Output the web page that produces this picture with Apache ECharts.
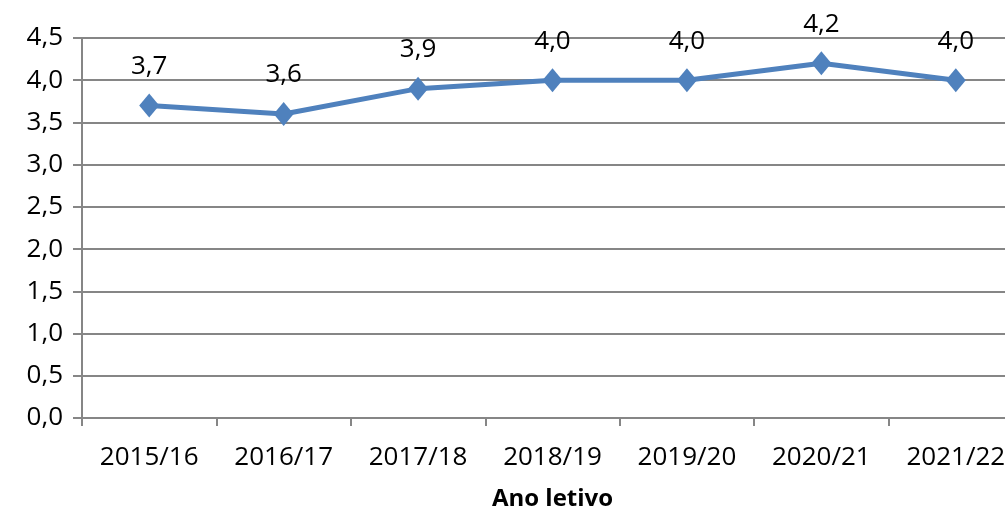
<!DOCTYPE html>
<html><head><meta charset="utf-8">
<script src="https://cdn.jsdelivr.net/npm/echarts@6/dist/echarts.min.js"></script>
<style>html,body{margin:0;padding:0;background:#fff}#c{width:1005px;height:509px}</style>
</head><body><div id="c"></div>
<script>
const categories = ['2015/16','2016/17','2017/18','2018/19','2019/20','2020/21','2021/22'];
const values = [3.7, 3.6, 3.9, 4.0, 4.0, 4.2, 4.0];
const axisName = 'Ano letivo';
const fmt = v => Number(v).toFixed(1).replace('.', ',');
const FONT = '"Open Sans", sans-serif';
const chart = echarts.init(document.getElementById('c'), null, {renderer:'canvas'});
chart.setOption({
  animation:false,
  grid:{left:82, top:38, bottom:91, right:-18, containLabel:false, outerBoundsMode:'none'},
  xAxis:{
    type:'category', data:categories, boundaryGap:true,
    axisLine:{lineStyle:{color:'#868686', width:2}},
    axisTick:{show:true, length:8, lineStyle:{color:'#868686', width:2}},
    axisLabel:{color:'#000', fontSize:26, fontFamily:FONT, margin:27},
    name:axisName, nameLocation:'middle', nameGap:69,
    nameTextStyle:{color:'#000', fontSize:24, fontWeight:'bold', fontFamily:FONT}
  },
  yAxis:{
    type:'value', min:0, max:4.5, interval:0.5,
    axisLine:{show:true, lineStyle:{color:'#868686', width:2}},
    axisTick:{show:true, length:9, lineStyle:{color:'#868686', width:2}},
    splitLine:{show:true, lineStyle:{color:'#868686', width:2}},
    axisLabel:{color:'#000', fontSize:26, fontFamily:FONT, margin:19, formatter:fmt}
  },
  series:[{
    type:'line', data:values,
    lineStyle:{color:'#4F81BD', width:5},
    itemStyle:{color:'#4F81BD'},
    symbol:'diamond', symbolSize:[20,24],
    label:{show:true, position:'top', distance:14, color:'#000', fontSize:26, fontFamily:FONT, formatter:p=>fmt(p.value)}
  }]
});
</script></body></html>
